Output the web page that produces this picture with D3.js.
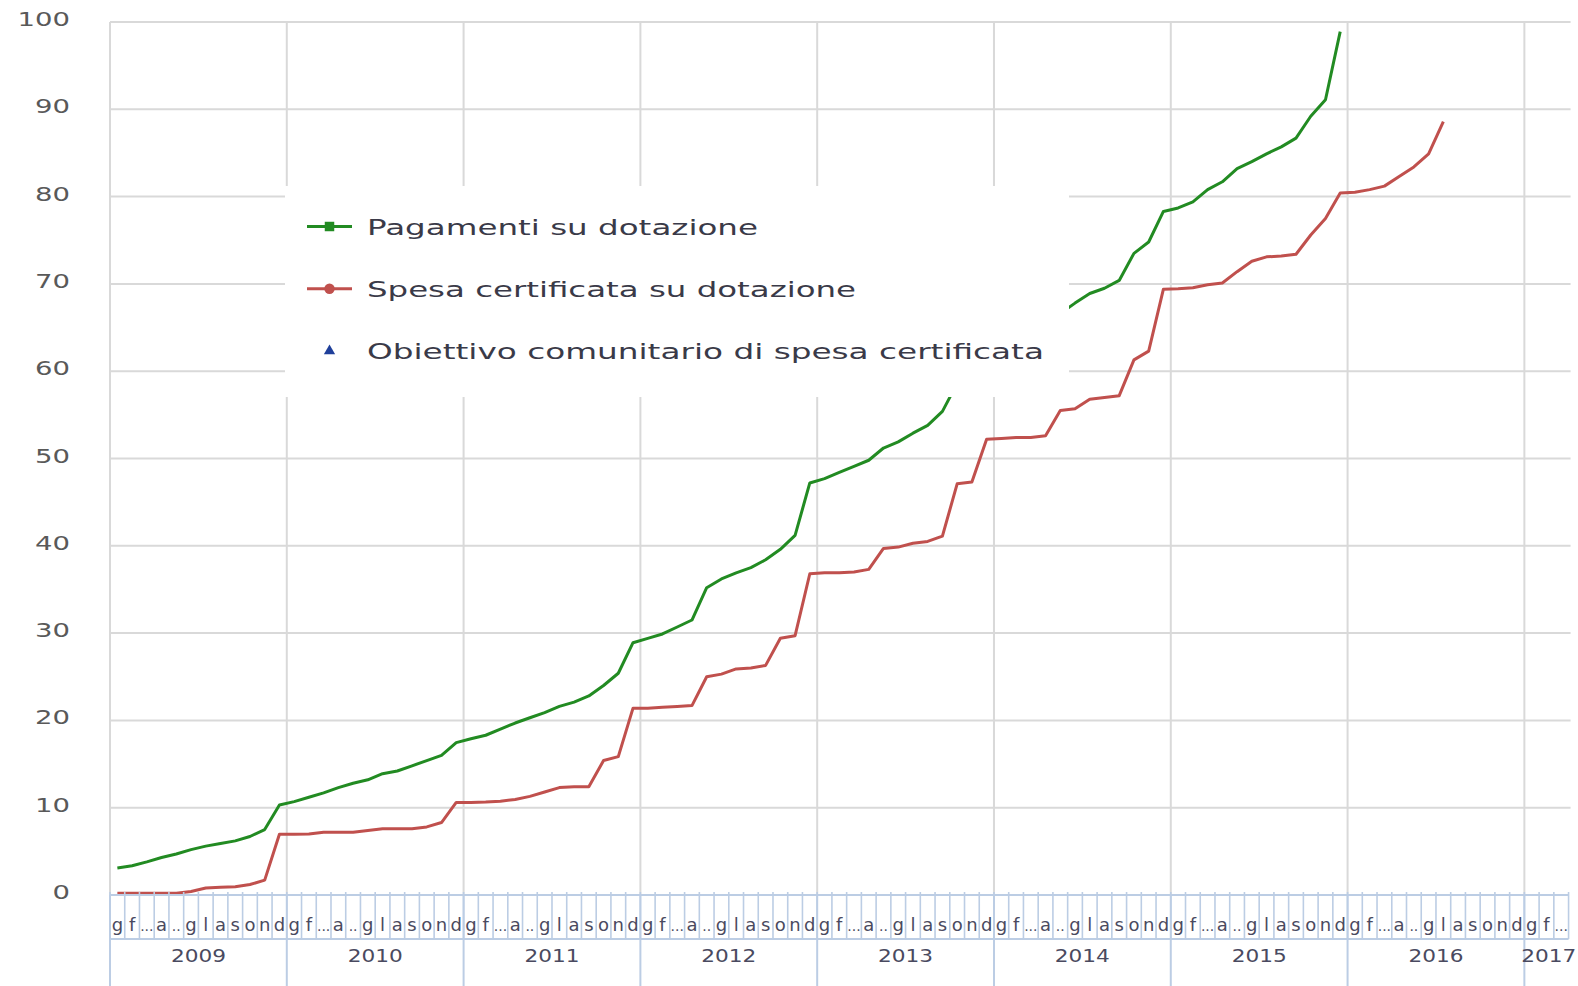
<!DOCTYPE html>
<html><head><meta charset="utf-8">
<script src="https://cdn.jsdelivr.net/npm/d3@7/dist/d3.min.js"></script>
<style>body{margin:0;background:#fff;} svg{display:block;}</style>
</head><body>
<svg id="c" width="1578" height="986"></svg>
<script>
// ---- data ----
const years = [2009, 2010, 2011, 2012, 2013, 2014, 2015, 2016, 2017];
const monthLabels = ["g", "f", "...", "a", "..", "g", "l", "a", "s", "o", "n", "d"];
const monthsInLastYear = 3;
const yTicks = [0, 10, 20, 30, 40, 50, 60, 70, 80, 90, 100];
const seriesNames = ["Pagamenti su dotazione", "Spesa certificata su dotazione", "Obiettivo comunitario di spesa certificata"];

const pagamenti = [
  3.1, 3.35, 3.8, 4.3, 4.7, 5.2, 5.6, 5.9, 6.2, 6.7, 7.5, 10.3,
  10.7, 11.2, 11.7, 12.3, 12.8, 13.2, 13.9, 14.2, 14.8, 15.4, 16.0, 17.45,
  17.9, 18.3, 19.0, 19.7, 20.3, 20.9, 21.6, 22.1, 22.8, 24.0, 25.4, 28.9,
  29.4, 29.9, 30.7, 31.5, 35.2, 36.2, 36.9, 37.5, 38.4, 39.6, 41.2, 47.2,
  47.7, 48.4, 49.1, 49.8, 51.2, 51.9, 52.9, 53.8, 55.4, 58.6, 59.8, 63.0,
  63.6, 64.3, 65.0, 65.7, 66.6, 67.8, 68.9, 69.5, 70.4, 73.5, 74.8, 78.3,
  78.7, 79.4, 80.8, 81.7, 83.2, 84.0, 84.9, 85.7, 86.7, 89.2, 91.1, 98.9
];
const spesa = [
  0.2, 0.2, 0.2, 0.2, 0.2, 0.4, 0.8, 0.9, 0.95, 1.2, 1.7, 6.95,
  6.95, 7.0, 7.2, 7.2, 7.2, 7.4, 7.6, 7.6, 7.6, 7.8, 8.3, 10.6,
  10.6, 10.65, 10.75, 10.95, 11.3, 11.8, 12.3, 12.4, 12.4, 15.4, 15.85, 21.4,
  21.4, 21.5, 21.6, 21.7, 25.0, 25.3, 25.9, 26.0, 26.3, 29.4, 29.7, 36.8,
  36.9, 36.9, 37.0, 37.3, 39.7, 39.85, 40.3, 40.5, 41.1, 47.1, 47.3, 52.2,
  52.3, 52.4, 52.4, 52.6, 55.5, 55.7, 56.8, 57.0, 57.2, 61.3, 62.3, 69.4,
  69.45, 69.55, 69.9, 70.1, 71.4, 72.6, 73.1, 73.2, 73.4, 75.6, 77.5, 80.4,
  80.5, 80.8, 81.2, 82.3, 83.4, 84.9, 88.6
];
const obiettivo = [];

// ---- categories ----
const categories = [];
years.forEach((yr, yi) => {
  const n = yi === years.length - 1 ? monthsInLastYear : 12;
  for (let m = 0; m < n; m++) categories.push({year: yr, m: m, label: monthLabels[m], key: yr + "-" + (m + 1)});
});

const svg = d3.select("#c");
const plotLeft = 110, bw = 14.733;
const plotRight = plotLeft + categories.length * bw;
const plotTop = 22, plotBottom = 895;
const x = d3.scaleBand().domain(categories.map(d => d.key)).range([plotLeft, plotRight]).padding(0);
const y = d3.scaleLinear().domain([0, 100]).range([plotBottom, plotTop]);

const gridColor = "#d9d9d9", axisColor = "#bccde4", tickText = "#595959";

// horizontal gridlines
svg.append("g").selectAll("line").data(yTicks.filter(t => t > 0)).join("line")
  .attr("x1", plotLeft).attr("x2", plotRight + 2).attr("y1", d => y(d)).attr("y2", d => y(d))
  .attr("stroke", gridColor).attr("stroke-width", 2);

// vertical year gridlines
const yearStarts = categories.filter(d => d.m === 0);
svg.append("g").selectAll("line").data(yearStarts).join("line")
  .attr("x1", d => x(d.key)).attr("x2", d => x(d.key)).attr("y1", plotTop).attr("y2", plotBottom)
  .attr("stroke", gridColor).attr("stroke-width", 2);

// y labels
svg.append("g").selectAll("text").data(yTicks).join("text")
  .attr("x", 70).attr("y", d => y(d) + 4)
  .attr("text-anchor", "end")
  .attr("font-family", "DejaVu Sans").attr("font-size", 20).attr("fill", tickText)
  .attr("textLength", d => String(d).length * 17.5).attr("lengthAdjust", "spacingAndGlyphs")
  .text(d => d);

// series lines
const line = d3.line().x((d, i) => x(categories[i].key) + bw / 2).y(d => y(d));
svg.append("path").datum(spesa).attr("d", line).attr("fill", "none")
  .attr("stroke", "#c0504d").attr("stroke-width", 3).attr("stroke-linejoin", "round");
svg.append("path").datum(pagamenti).attr("d", line).attr("fill", "none")
  .attr("stroke", "#228b22").attr("stroke-width", 3).attr("stroke-linejoin", "round");
svg.append("g").selectAll("path").data(obiettivo).join("path")
  .attr("transform", (d, i) => `translate(${x(categories[i].key) + bw / 2},${y(d)})`)
  .attr("d", d3.symbol(d3.symbolTriangle, 60)).attr("fill", "#1f3f9a");

// legend
const lg = svg.append("g");
lg.append("rect").attr("x", 285).attr("y", 186).attr("width", 784).attr("height", 211).attr("fill", "#fff");
const legendRows = [
  {name: seriesNames[0], color: "#228b22", sym: "square", cy: 226.5, w: 391},
  {name: seriesNames[1], color: "#c0504d", sym: "circle", cy: 288.8, w: 489},
  {name: seriesNames[2], color: "#1f3f9a", sym: "triangle", cy: 351, w: 677}
];
legendRows.forEach(r => {
  if (r.sym !== "triangle") {
    lg.append("line").attr("x1", 307).attr("x2", 352).attr("y1", r.cy).attr("y2", r.cy)
      .attr("stroke", r.color).attr("stroke-width", 3);
  }
  const symType = r.sym === "square" ? d3.symbolSquare : r.sym === "circle" ? d3.symbolCircle : d3.symbolTriangle;
  const size = r.sym === "square" ? 90 : r.sym === "circle" ? 85 : 55;
  lg.append("path").attr("transform", `translate(329.5,${r.cy})`)
    .attr("d", d3.symbol(symType, size)).attr("fill", r.color);
  lg.append("text").attr("x", 367).attr("y", r.cy + 8)
    .attr("font-family", "DejaVu Sans").attr("font-size", 22).attr("fill", "#3a3a48")
    .attr("textLength", r.w).attr("lengthAdjust", "spacingAndGlyphs")
    .text(r.name);
});

// category axis (two levels)
const ax = svg.append("g");
ax.append("line").attr("x1", plotLeft).attr("x2", plotRight).attr("y1", plotBottom).attr("y2", plotBottom)
  .attr("stroke", axisColor).attr("stroke-width", 2);
ax.append("line").attr("x1", plotLeft).attr("x2", plotRight).attr("y1", 939).attr("y2", 939)
  .attr("stroke", axisColor).attr("stroke-width", 2);
const bounds = categories.map(d => x(d.key)).concat([plotRight]);
ax.selectAll(".mt").data(bounds).join("line").attr("class", "mt")
  .attr("x1", d => d).attr("x2", d => d).attr("y1", plotBottom - 3).attr("y2", 939)
  .attr("stroke", axisColor).attr("stroke-width", 1.6);
ax.selectAll(".yt").data(yearStarts).join("line").attr("class", "yt")
  .attr("x1", d => x(d.key)).attr("x2", d => x(d.key)).attr("y1", plotBottom).attr("y2", 986)
  .attr("stroke", axisColor).attr("stroke-width", 2);
ax.selectAll(".ml").data(categories).join("text").attr("class", "ml")
  .attr("x", d => x(d.key) + bw / 2).attr("y", 931)
  .attr("text-anchor", "middle")
  .attr("font-family", "DejaVu Sans").attr("font-size", d => d.label.length > 1 ? 14 : 18)
  .attr("fill", "#4a4a60")
  .text(d => d.label);
ax.selectAll(".yl").data(yearStarts).join("text").attr("class", "yl")
  .attr("x", d => {
    const n = categories.filter(c => c.year === d.year).length;
    return n === 12 ? x(d.key) + 6 * bw : x(d.key) - 3;
  })
  .attr("y", 962)
  .attr("text-anchor", d => categories.filter(c => c.year === d.year).length === 12 ? "middle" : "start")
  .attr("font-family", "DejaVu Sans").attr("font-size", 17).attr("fill", "#4a4a60")
  .attr("textLength", 55).attr("lengthAdjust", "spacingAndGlyphs")
  .text(d => d.year);
</script>
</body></html>
